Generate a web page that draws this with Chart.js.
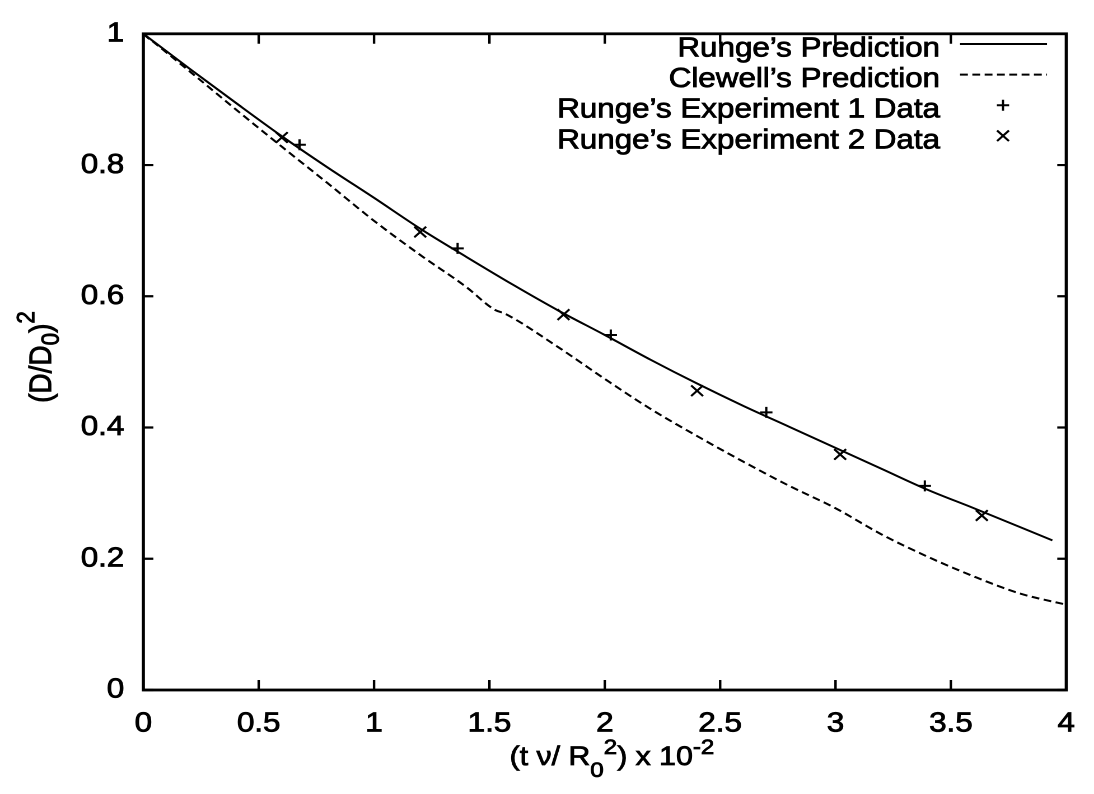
<!DOCTYPE html>
<html>
<head>
<meta charset="utf-8">
<script src="https://cdn.jsdelivr.net/npm/chart.js@4.4.1/dist/chart.umd.min.js"></script>
<style>
html,body{margin:0;padding:0;background:#fff;overflow:hidden;width:1094px;height:794px;}
#wrap{position:absolute;left:0;top:0;width:977px;height:794px;transform:scaleX(1.119754);transform-origin:0 0;}
canvas{display:block;}
</style>
</head>
<body>
<div id="wrap"><canvas id="c" width="977" height="794"></canvas></div>
<script>
// ---------------- data ----------------
const xTickValues = [0, 0.5, 1, 1.5, 2, 2.5, 3, 3.5, 4];
const yTickValues = [0, 0.2, 0.4, 0.6, 0.8, 1];

const rungeX = [0, 0.2, 0.4, 0.6, 0.8, 1.0, 1.2, 1.4, 1.6, 1.8, 2.0, 2.2, 2.4, 2.6, 2.8, 3.0, 3.2, 3.4, 3.6, 3.94];
const rungeY = [1.0, 0.947, 0.895, 0.844, 0.796, 0.750, 0.703, 0.660, 0.618, 0.578, 0.541, 0.503, 0.467, 0.433, 0.401, 0.369, 0.337, 0.305, 0.277, 0.228];

const clewellX = [0, 0.2, 0.4, 0.6, 0.8, 1.0, 1.2, 1.4, 1.52, 1.57, 1.8, 2.0, 2.2, 2.4, 2.6, 2.8, 3.0, 3.2, 3.4, 3.6, 3.8, 4.0];
const clewellY = [1.0, 0.943, 0.885, 0.828, 0.772, 0.715, 0.663, 0.614, 0.580, 0.573, 0.522, 0.474, 0.428, 0.387, 0.348, 0.311, 0.277, 0.237, 0.203, 0.173, 0.147, 0.130];

const exp1X = [0, 0.677, 1.362, 2.026, 2.70, 3.387];
const exp1Y = [1.0, 0.831, 0.673, 0.541, 0.423, 0.311];

const exp2X = [0, 0.600, 1.20, 1.821, 2.40, 3.02, 3.634];
const exp2Y = [1.0, 0.842, 0.698, 0.572, 0.456, 0.359, 0.266];

const seriesLabels = ["Runge\u2019s Prediction", "Clewell\u2019s Prediction", "Runge\u2019s Experiment 1 Data", "Runge\u2019s Experiment 2 Data"];

// ---------------- helpers ----------------
const SX = 1094 / 977;
const FONT = '"Liberation Sans", Arial, Helvetica, sans-serif';
const STROKE = 0.8;
const zip = (xs, ys) => xs.map((x, i) => ({x: x, y: ys[i]}));

function richWidth(ctx, segs, size) {
  let w = 0;
  for (const s of segs) {
    const fs = s.k ? size * 0.8 : size;
    ctx.font = fs + 'px ' + FONT;
    w += ctx.measureText(s.t).width;
  }
  return w;
}
function drawRich(ctx, segs, cx, baseY, size, subOff, supOff) {
  const total = richWidth(ctx, segs, size);
  let x = cx - total / 2;
  ctx.textAlign = 'left';
  ctx.textBaseline = 'alphabetic';
  ctx.lineWidth = STROKE;
  for (const s of segs) {
    const fs = s.k ? size * 0.8 : size;
    ctx.font = fs + 'px ' + FONT;
    let y = baseY;
    if (s.k === 'sub') y += subOff;
    if (s.k === 'sup') y -= supOff;
    ctx.fillText(s.t, x, y);
    ctx.strokeText(s.t, x, y);
    x += ctx.measureText(s.t).width;
  }
}

const framePlugin = {
  id: 'frame',
  beforeDatasetsDraw(chart) {
    const {ctx, chartArea: a} = chart;
    const xs = chart.scales.x, ys = chart.scales.y;
    ctx.save();
    ctx.strokeStyle = '#000';
    ctx.lineWidth = 2.8;
    ctx.strokeRect(a.left, a.top, a.right - a.left, a.bottom - a.top);
    ctx.lineWidth = 2.2;
    ctx.beginPath();
    xs.ticks.forEach(t => {
      const p = xs.getPixelForValue(t.value);
      ctx.moveTo(p, a.bottom); ctx.lineTo(p, a.bottom - 10);
      ctx.moveTo(p, a.top); ctx.lineTo(p, a.top + 10);
    });
    ys.ticks.forEach(t => {
      const p = ys.getPixelForValue(t.value);
      ctx.moveTo(a.left, p); ctx.lineTo(a.left + 10 / SX, p);
      ctx.moveTo(a.right, p); ctx.lineTo(a.right - 9 / SX, p);
    });
    ctx.stroke();
    ctx.restore();
  }
};

const textPlugin = {
  id: 'texts',
  afterDraw(chart) {
    const {ctx} = chart;
    ctx.save();
    ctx.fillStyle = '#000';
    ctx.strokeStyle = '#000';
    // legend
    const tx = 940 / SX, l0 = 960 / SX, l1 = 1047 / SX, mx = 1003 / SX;
    ctx.font = '28px ' + FONT;
    ctx.textAlign = 'right';
    ctx.textBaseline = 'alphabetic';
    seriesLabels.forEach((lab, i) => {
      const base = 56.5 + 30.6 * i;
      ctx.lineWidth = STROKE;
      ctx.fillText(lab, tx, base);
      ctx.strokeText(lab, tx, base);
      const ly = base - 12.5;
      const ds = chart.data.datasets[i];
      if (ds.showLine !== false) {
        ctx.save();
        ctx.lineWidth = ds.borderWidth;
        ctx.setLineDash(ds.borderDash || []);
        ctx.beginPath(); ctx.moveTo(l0, ly); ctx.lineTo(l1, ly); ctx.stroke();
        ctx.restore();
      } else {
        ctx.save();
        ctx.lineWidth = ds.pointBorderWidth;
        Chart.helpers.drawPoint(ctx, {pointStyle: ds.pointStyle, radius: ds.pointRadius, rotation: 0, borderWidth: ds.pointBorderWidth}, mx, ly);
        ctx.restore();
      }
    });
    // x title
    drawRich(ctx, [
      {t: '(t \u03bd/ R'}, {t: '0', k: 'sub'}, {t: '2', k: 'sup'}, {t: ') x 10'}, {t: '-2', k: 'sup'}
    ], 612 / SX, 765, 27, 12, 11);
    // y title
    ctx.save();
    ctx.translate(51 / SX, 357);
    ctx.rotate(-Math.PI / 2);
    drawRich(ctx, [
      {t: '(D/D'}, {t: '0', k: 'sub'}, {t: ')'}, {t: '2', k: 'sup'}
    ], 0, 0, 28, 7, 15);
    ctx.restore();
    ctx.restore();
  }
};

Chart.defaults.font.family = FONT;
Chart.defaults.color = '#000';

new Chart(document.getElementById('c'), {
  type: 'line',
  data: {
    datasets: [
      {label: seriesLabels[0], data: zip(rungeX, rungeY), borderColor: '#000', borderWidth: 2, pointRadius: 0, fill: false, cubicInterpolationMode: 'monotone'},
      {label: seriesLabels[1], data: zip(clewellX, clewellY), borderColor: '#000', borderWidth: 2, borderDash: [7, 4], pointRadius: 0, fill: false, cubicInterpolationMode: 'monotone'},
      {label: seriesLabels[2], data: zip(exp1X, exp1Y), showLine: false, pointStyle: 'cross', pointRadius: 5.5, pointBorderWidth: 2, borderColor: '#000', backgroundColor: '#000', borderWidth: 2},
      {label: seriesLabels[3], data: zip(exp2X, exp2Y), showLine: false, pointStyle: 'crossRot', pointRadius: 7.5, pointBorderWidth: 2, borderColor: '#000', backgroundColor: '#000', borderWidth: 2}
    ]
  },
  options: {
    responsive: false,
    devicePixelRatio: 2,
    animation: false,
    layout: {padding: {top: 21, right: 9, left: 0, bottom: 0}},
    plugins: {legend: {display: false}, tooltip: {enabled: false}},
    scales: {
      x: {
        type: 'linear', min: 0, max: 4,
        grid: {display: false, drawTicks: false},
        border: {display: false},
        afterBuildTicks: s => { s.ticks = xTickValues.map(v => ({value: v})); },
        afterFit: s => { s.height = 104; },
        ticks: {font: {size: 28}, color: '#000', textStrokeColor: '#000', textStrokeWidth: STROKE, padding: 17, maxRotation: 0, autoSkip: false, callback: v => String(v)}
      },
      y: {
        type: 'linear', min: 0, max: 1,
        grid: {display: false, drawTicks: false},
        border: {display: false},
        afterBuildTicks: s => { s.ticks = yTickValues.map(v => ({value: v})); },
        afterFit: s => { s.width = 128; },
        ticks: {font: {size: 28}, color: '#000', textStrokeColor: '#000', textStrokeWidth: STROKE, padding: 17, autoSkip: false, callback: v => String(v)}
      }
    }
  },
  plugins: [framePlugin, textPlugin]
});
</script>
</body>
</html>
